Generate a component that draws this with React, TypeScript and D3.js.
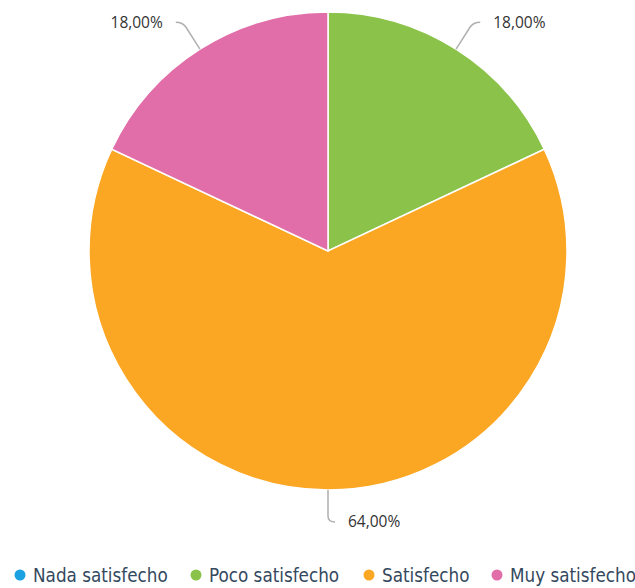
import React from "react";
import * as d3 from "d3";

const categories = ["Nada satisfecho", "Poco satisfecho", "Satisfecho", "Muy satisfecho"];
const values = [0, 18, 64, 18];
const colors = ["#1ba1e2", "#8bc34a", "#fba724", "#e16ea8"];

const W = 635;
const H = 588;
const cx = 328;
const cy = 251;
const R = 239;

export default function App() {
  const data = categories.map((c, i) => ({ c, v: values[i], col: colors[i] }));
  const pie = d3.pie<any>().sort(null).value((d) => d.v);
  const arcs = pie(data);
  const arc = d3.arc<any>().innerRadius(0).outerRadius(R);
  const fmt = (v: number) => v.toFixed(2).replace(".", ",") + "%";

  const legendX = [20, 196, 369, 497];

  return (
    <svg width={W} height={H} style={{ position: "absolute", left: 0, top: 0 }}>
      <rect width={W} height={H} fill="#fff" />
      <g transform={`translate(${cx},${cy})`}>
        {arcs.filter((a) => a.data.v > 0).map((a, i) => (
          <path key={i} d={arc(a) as string} fill={a.data.col} stroke="#fff" strokeWidth={1.5} />
        ))}
        {arcs.filter((a) => a.data.v > 0).map((a, i) => {
          const mid = (a.startAngle + a.endAngle) / 2;
          const s = Math.sin(mid);
          const c = -Math.cos(mid);
          const dir = s < -0.001 ? -1 : 1;
          const x0 = s * R, y0 = c * R;
          const r2 = R + 32;
          const x1 = s * r2, y1 = c * r2;
          const x2 = x1 + dir * 7;
          const bx = s * (r2 - 6), by = c * (r2 - 6);
          const d = `M${x0},${y0} L${bx},${by} Q${x1},${y1} ${x2},${y1}`;
          return (
            <g key={"l" + i}>
              <path d={d} fill="none" stroke="#b0b0b0" strokeWidth={1.5} />
              <text
                x={x2 + dir * 13}
                y={y1}
                dy="0.35em"
                textAnchor={dir > 0 ? "start" : "end"}
                fontFamily="Open Sans"
                fontSize={15.5}
                fill="#333"
              >
                {fmt(a.data.v)}
              </text>
            </g>
          );
        })}
      </g>
      <g>
        {data.map((d, i) => (
          <g key={"lg" + i} transform={`translate(${legendX[i]},575)`}>
            <circle r={5.5} fill={d.col} />
            <text x={13} dy="0.35em" fontFamily="DejaVu Sans Condensed" fontSize={18.7} fill="#34495e">
              {d.c}
            </text>
          </g>
        ))}
      </g>
    </svg>
  );
}
